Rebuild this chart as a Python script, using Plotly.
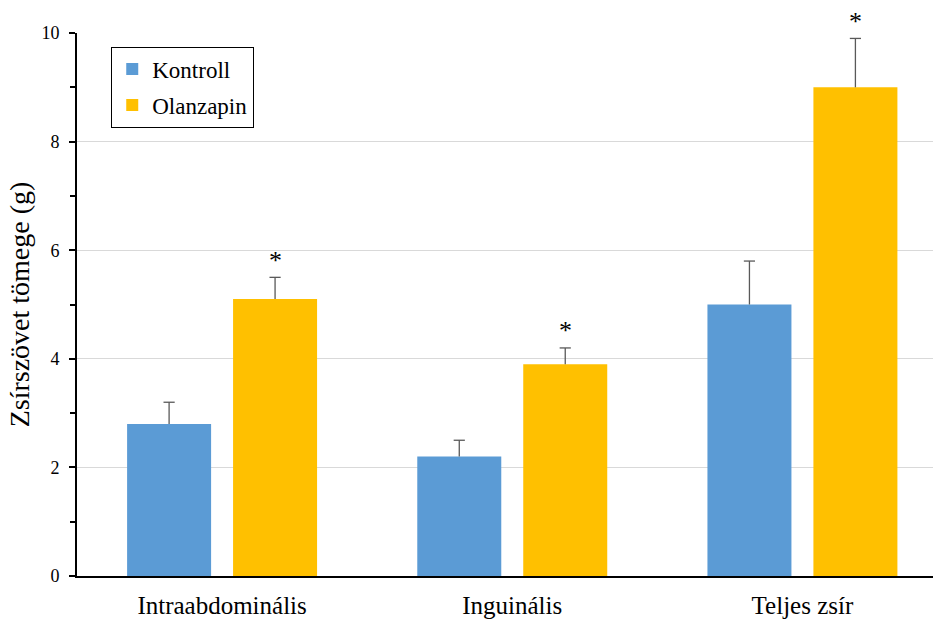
import plotly.graph_objects as go

categories = ["Intraabdominális", "Inguinális", "Teljes zsír"]
kontroll = [2.8, 2.2, 5.0]
kontroll_err = [0.4, 0.3, 0.8]
olanzapin = [5.1, 3.9, 9.0]
olanzapin_err = [0.4, 0.3, 0.9]
y_ticks = [0, 2, 4, 6, 8, 10]

FONT = "Times New Roman, Liberation Serif, serif"
OFFSET = 0.1826
WIDTH = 0.2895
ERR_COLOR = "#595959"

idx = list(range(len(categories)))
xk = [i - OFFSET for i in idx]
xo = [i + OFFSET for i in idx]

fig = go.Figure()
fig.add_trace(go.Bar(name="Kontroll", x=xk, y=kontroll, width=WIDTH, legendgroup="k",
                     marker_color="#5B9BD5", marker_line_width=0))
fig.add_trace(go.Bar(name="Olanzapin", x=xo, y=olanzapin, width=WIDTH, legendgroup="o",
                     marker_color="#FFC000", marker_line_width=0))

for xs, vals, errs in [(xk, kontroll, kontroll_err), (xo, olanzapin, olanzapin_err)]:
    sx, sy = [], []
    for x, v, e in zip(xs, vals, errs):
        sx += [x, x, None]
        sy += [v, v + e, None]
    fig.add_trace(go.Scatter(x=sx, y=sy, mode="lines", line=dict(color=ERR_COLOR, width=1.3),
                             showlegend=False, hoverinfo="skip"))
    fig.add_trace(go.Scatter(x=xs, y=[v + e for v, e in zip(vals, errs)], mode="markers",
                             marker=dict(symbol="line-ew", size=8, line=dict(color=ERR_COLOR, width=1.3)),
                             showlegend=False, hoverinfo="skip"))

for x, v, e in zip(xo, olanzapin, olanzapin_err):
    fig.add_annotation(x=x, y=v + e, text="*", showarrow=False, yshift=17,
                       font=dict(family=FONT, size=26, color="black"))

fig.update_layout(
    width=933, height=619,
    margin=dict(l=77, r=0, t=33, b=43),
    paper_bgcolor="white", plot_bgcolor="white",
    font=dict(family=FONT, size=18, color="black"),
    legend=dict(x=0.04, y=0.975, xanchor="left", yanchor="top",
                bordercolor="black", borderwidth=1, bgcolor="white",
                font=dict(family=FONT, size=23, color="black"),
                itemwidth=30, tracegroupgap=3),
    xaxis=dict(range=[-0.5, 2.45], tickvals=idx, ticktext=categories,
               showline=True, linecolor="black", linewidth=2,
               ticks="", tickfont=dict(family=FONT, size=25), ticklabelstandoff=6,
               showgrid=False, zeroline=False),
    yaxis=dict(range=[0, 10], tickvals=y_ticks, showline=True, linecolor="black", linewidth=2,
               ticks="outside", ticklen=6, tickcolor="black", tickwidth=1.5,
               showgrid=True, gridcolor="#D9D9D9", gridwidth=1, zeroline=False,
               minor=dict(dtick=1, ticks="outside", ticklen=5, tickcolor="black", tickwidth=1.5,
                          showgrid=False),
               tickfont=dict(family=FONT, size=18), ticklabelstandoff=6,
               title=dict(text="Zsírszövet tömege (g)", font=dict(family=FONT, size=28), standoff=4)),
)

fig.write_html("out.html")
